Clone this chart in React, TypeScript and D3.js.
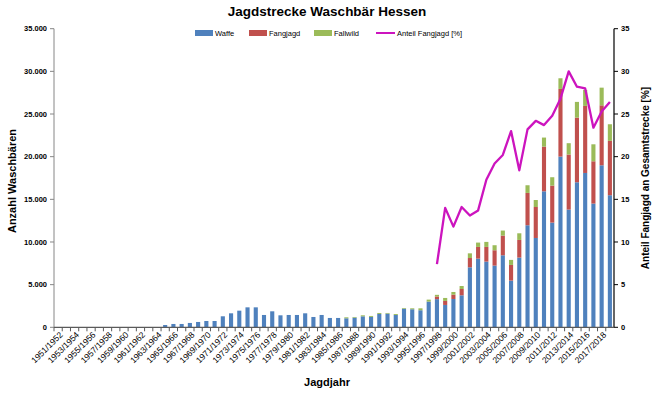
import * as React from 'react';
import * as d3 from 'd3';

// Jagdjahre (categories)
const seasons = [
  '1951/1952', '1952/1953', '1953/1954', '1954/1955', '1955/1956', '1956/1957', '1957/1958', '1958/1959',
  '1959/1960', '1960/1961', '1961/1962', '1962/1963', '1963/1964', '1964/1965', '1965/1966', '1966/1967',
  '1967/1968', '1968/1969', '1969/1970', '1970/1971', '1971/1972', '1972/1973', '1973/1974', '1974/1975',
  '1975/1976', '1976/1977', '1977/1978', '1978/1979', '1979/1980', '1980/1981', '1981/1982', '1982/1983',
  '1983/1984', '1984/1985', '1985/1986', '1986/1987', '1987/1988', '1988/1989', '1989/1990', '1990/1991',
  '1991/1992', '1992/1993', '1993/1994', '1994/1995', '1995/1996', '1996/1997', '1997/1998', '1998/1999',
  '1999/2000', '2000/2001', '2001/2002', '2002/2003', '2003/2004', '2004/2005', '2005/2006', '2006/2007',
  '2007/2008', '2008/2009', '2009/2010', '2010/2011', '2011/2012', '2012/2013', '2013/2014', '2014/2015',
  '2015/2016', '2016/2017', '2017/2018', '2018/2019',
];

const waffe = [
  0, 0, 0, 0, 0, 0, 0, 0, 0, 0, 0, 0, 0, 270, 390, 390,
  510, 625, 740, 740, 1290, 1640, 1950, 2340, 2340, 1445, 1875, 1405, 1445, 1445, 1640, 1210,
  1445, 1095, 1095, 1055, 1130, 1285, 1220, 1565, 1600, 1450, 2185, 2115, 2000, 3010, 3300, 2620,
  3320, 3750, 7030, 8050, 7700, 7230, 8440, 5470, 8170, 11960, 10470, 15940, 12270, 20010, 13800, 17000,
  18090, 14500, 18990, 15480,
];

const fangjagd = [
  0, 0, 0, 0, 0, 0, 0, 0, 0, 0, 0, 0, 0, 0, 0, 0,
  0, 0, 0, 0, 0, 0, 0, 0, 0, 0, 0, 0, 0, 0, 0, 0,
  0, 0, 0, 0, 0, 0, 0, 0, 0, 0, 0, 0, 0, 0, 310, 470,
  510, 740, 1090, 1370, 1720, 1800, 2310, 1840, 2070, 3790, 3630, 5240, 4340, 7930, 6450, 7580,
  7860, 4960, 7030, 6370,
];

const fallwild = [
  0, 0, 0, 0, 0, 0, 0, 0, 0, 0, 0, 0, 0, 0, 0, 0,
  0, 0, 0, 0, 0, 0, 0, 0, 0, 0, 0, 0, 0, 0, 0, 0,
  0, 0, 0, 115, 80, 120, 110, 115, 80, 110, 80, 110, 225, 235, 195, 350,
  310, 350, 550, 510, 590, 590, 590, 590, 780, 900, 820, 1060, 980, 1250, 1330, 1840,
  1880, 1990, 2070, 1950,
];

// Anteil Fangjagd an Gesamtstrecke [%], erst ab 1997/1998
const anteil: (number | null)[] = [
  null, null, null, null, null, null, null, null, null, null, null, null, null, null, null, null,
  null, null, null, null, null, null, null, null, null, null, null, null, null, null, null, null,
  null, null, null, null, null, null, null, null, null, null, null, null, null, null, 7.4, 14.0,
  11.8, 14.1, 13.1, 13.7, 17.3, 19.2, 20.2, 23.0, 18.4, 23.2, 24.2, 23.7, 24.8, 26.8, 30.0, 28.2,
  28.0, 23.4, 25.3, 26.4,
];

const leftTicks = [0, 5000, 10000, 15000, 20000, 25000, 30000, 35000];
const rightTicks = [0, 5, 10, 15, 20, 25, 30, 35];

const seriesNames = ['Waffe', 'Fangjagd', 'Fallwild'];
const colors = ['#4F81BD', '#C0504D', '#9BBB59'];
const lineColor = '#CC14BE';

const W = 655;
const H = 393;
const plot = { left: 54, right: 614, top: 28.7, bottom: 327.3 };
const font = '"Liberation Sans", Arial, sans-serif';

const fmt = (v: number) => (v === 0 ? '0' : d3.format(',')(v).replace(/,/g, '.'));

export default function App() {
  const x = d3.scaleBand<string>().domain(seasons).range([plot.left, plot.right]).paddingInner(0.5).paddingOuter(0.25);
  const y = d3.scaleLinear().domain([0, 35000]).range([plot.bottom, plot.top]);
  const yR = d3.scaleLinear().domain([0, 35]).range([plot.bottom, plot.top]);

  const rows = seasons.map((s, i) => ({ s, Waffe: waffe[i], Fangjagd: fangjagd[i], Fallwild: fallwild[i] }));
  const stacked = d3.stack<any>().keys(seriesNames)(rows);

  const bw = x.bandwidth();
  const step = x.step();
  const cx = (s: string) => (x(s) as number) + bw / 2;

  const line = d3
    .line<number | null>()
    .defined((d) => d != null)
    .x((_, i) => cx(seasons[i]))
    .y((d) => yR(d as number));

  const legendItems = [
    { name: 'Waffe', kind: 'rect', color: colors[0], x: 195, w: 18 },
    { name: 'Fangjagd', kind: 'rect', color: colors[1], x: 249, w: 18 },
    { name: 'Fallwild', kind: 'rect', color: colors[2], x: 314, w: 18 },
    { name: 'Anteil Fangjagd [%]', kind: 'line', color: lineColor, x: 376, w: 19 },
  ];

  return (
    <svg width={W} height={H} style={{ position: 'absolute', left: 0, top: 0, background: '#fff' }} fontFamily={font}>
      <text x={327} y={16} textAnchor="middle" fontSize={13.5} fontWeight="bold" fill="#000">
        Jagdstrecke Waschbär Hessen
      </text>

      {/* legend */}
      {legendItems.map((d) => (
        <g key={d.name}>
          {d.kind === 'rect' ? (
            <rect x={d.x} y={30} width={d.w} height={6} fill={d.color} />
          ) : (
            <line x1={d.x} x2={d.x + d.w} y1={33} y2={33} stroke={d.color} strokeWidth={2} />
          )}
          <text x={d.x + d.w + 2} y={36} fontSize={7.5} fill="#000">
            {d.name}
          </text>
        </g>
      ))}

      {/* bars */}
      {stacked.map((layer, li) => (
        <g key={layer.key} fill={colors[li]}>
          {layer.map((d, i) =>
            d[1] - d[0] > 0 ? (
              <rect key={i} x={x(seasons[i])} y={y(d[1])} width={bw} height={y(d[0]) - y(d[1])} />
            ) : null
          )}
        </g>
      ))}

      {/* share line */}
      <path d={line(anteil) || ''} fill="none" stroke={lineColor} strokeWidth={2.3} strokeLinejoin="round" />

      {/* left axis */}
      <line x1={plot.left} x2={plot.left} y1={plot.top} y2={plot.bottom} stroke="#868686" />
      {leftTicks.map((t) => (
        <g key={t}>
          <line x1={plot.left - 4} x2={plot.left} y1={y(t)} y2={y(t)} stroke="#868686" />
          <text x={plot.left - 7} y={y(t)} dy="0.35em" textAnchor="end" fontSize={7.5} fontWeight="bold" fill="#000">
            {fmt(t)}
          </text>
        </g>
      ))}

      {/* right axis */}
      <line x1={plot.right} x2={plot.right} y1={plot.top} y2={plot.bottom} stroke="#000" strokeWidth={1.2} />
      {rightTicks.map((t) => (
        <g key={t}>
          <line x1={plot.right} x2={plot.right + 4} y1={yR(t)} y2={yR(t)} stroke="#000" />
          <text x={plot.right + 7} y={yR(t)} dy="0.35em" textAnchor="start" fontSize={7.5} fontWeight="bold" fill="#000">
            {t}
          </text>
        </g>
      ))}

      {/* bottom axis */}
      <line x1={plot.left} x2={plot.right} y1={plot.bottom} y2={plot.bottom} stroke="#5a5a5a" strokeWidth={1.2} />
      {seasons.map((s) => (
        <line
          key={'t' + s}
          x1={(x(s) as number) - (step - bw) / 2}
          x2={(x(s) as number) - (step - bw) / 2}
          y1={plot.bottom}
          y2={plot.bottom + 4}
          stroke="#5a5a5a"
        />
      ))}
      {seasons.map((s, i) =>
        i % 2 === 0 ? (
          <text
            key={'l' + s}
            transform={`translate(${cx(s) + 3},${plot.bottom + 6}) rotate(-45)`}
            textAnchor="end"
            dy="0.35em"
            fontSize={8.5}
            fill="#000"
          >
            {s}
          </text>
        ) : null
      )}

      {/* axis titles */}
      <text x={327} y={386} textAnchor="middle" fontSize={11} fontWeight="bold" fill="#000">
        Jagdjahr
      </text>
      <text transform="translate(16,181) rotate(-90)" textAnchor="middle" fontSize={11} fontWeight="bold" fill="#000">
        Anzahl Waschbären
      </text>
      <text transform="translate(649,178) rotate(-90)" textAnchor="middle" fontSize={10} fontWeight="bold" fill="#000">
        Anteil Fangjagd  an Gesamtstrecke [%]
      </text>
    </svg>
  );
}
